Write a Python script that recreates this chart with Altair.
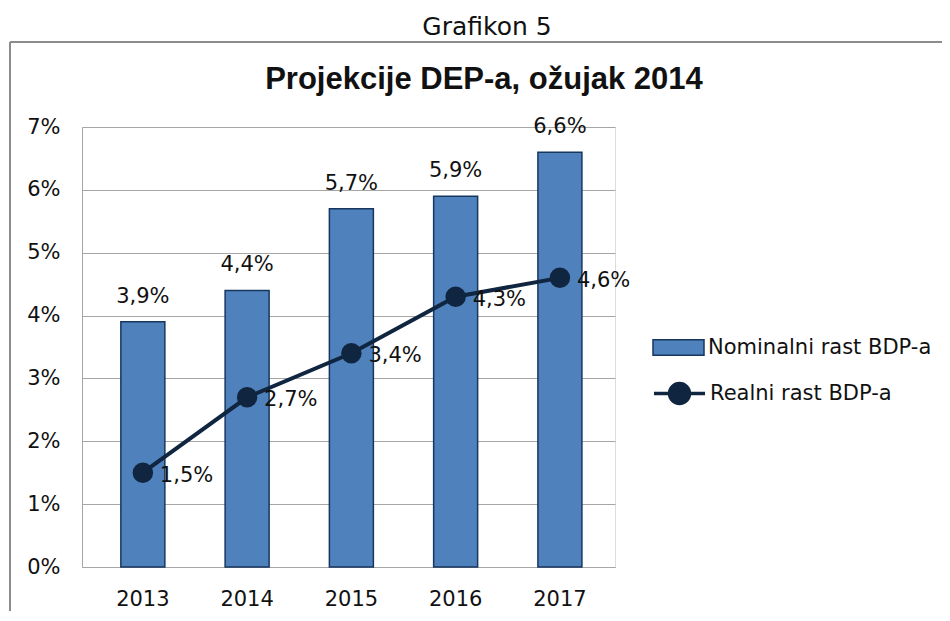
import altair as alt
import pandas as pd

years = ["2013", "2014", "2015", "2016", "2017"]
nominal = [3.9, 4.4, 5.7, 5.9, 6.6]
real = [1.5, 2.7, 3.4, 4.3, 4.6]
nominal_name = "Nominalni rast BDP-a"
real_name = "Realni rast BDP-a"
y_ticks = [0, 1, 2, 3, 4, 5, 6, 7]
chart_title = "Projekcije DEP-a, ožujak 2014"
caption = "Grafikon 5"

BAR = "#4F81BD"
BAR_EDGE = "#17375E"
LINE = "#10253F"
GRID = "#A6A6A6"
FONT = "DejaVu Sans"
FS = 21

W, H = 533, 440
PL, PT = 74, 119

df = pd.DataFrame({"year": years, "nominal": nominal, "real": real,
                   "s1": [nominal_name] * 5, "s2": [real_name] * 5})
df["nlab"] = [f"{v:.1f}".replace(".", ",") + "%" for v in nominal]
df["rlab"] = [f"{v:.1f}".replace(".", ",") + "%" for v in real]

xscale = alt.Scale(paddingInner=0.578, paddingOuter=0.345, align=0.54)
yscale = alt.Scale(domain=[0, 7], nice=False)

x = alt.X("year:N", scale=xscale, sort=years,
          axis=alt.Axis(title=None, labelAngle=0, ticks=False, labelFont=FONT,
                        labelFontSize=FS, labelColor="#111", labelPadding=21,
                        domainColor=GRID, domainWidth=1, grid=False))

base = alt.Chart(df)

bars = base.mark_bar(stroke=BAR_EDGE, strokeWidth=1.5).encode(
    x=x,
    y=alt.Y("nominal:Q", scale=yscale,
            axis=alt.Axis(title=None, values=y_ticks, labelExpr="datum.value + '%'",
                          labelFont=FONT, labelFontSize=FS, labelColor="#111",
                          labelPadding=22, ticks=False, gridColor=GRID, gridWidth=1,
                          domainColor=GRID, domainWidth=1)),
    fill=alt.Fill("s1:N", scale=alt.Scale(domain=[nominal_name], range=[BAR]),
                  legend=alt.Legend(title=None, orient="none", legendX=570, legendY=194,
                                    symbolType="M-1,-0.3H1V0.3H-1Z", symbolSize=2601,
                                    symbolStrokeColor=BAR_EDGE, symbolStrokeWidth=1.5,
                                    labelFont=FONT, labelFontSize=FS, labelColor="#111",
                                    labelOffset=3, labelLimit=400)),
)

bar_labels = base.mark_text(font=FONT, fontSize=FS, color="#111", dy=-25).encode(
    x=alt.X("year:N", scale=xscale, sort=years),
    y=alt.Y("nominal:Q", scale=yscale),
    text="nlab:N",
)

line = base.mark_line(strokeWidth=4).encode(
    x=alt.X("year:N", scale=xscale, sort=years),
    y=alt.Y("real:Q", scale=yscale),
    stroke=alt.Stroke("s2:N", scale=alt.Scale(domain=[real_name], range=[LINE]),
                      legend=alt.Legend(title=None, orient="none", legendX=570, legendY=239,
                                        symbolType="M-1,0H1M0.39,0A0.39,0.39 0 1 1 -0.39,0A0.39,0.39 0 1 1 0.39,0Z",
                                        symbolSize=2601, symbolFillColor=LINE,
                                        symbolStrokeWidth=3.5,
                                        labelFont=FONT, labelFontSize=FS, labelColor="#111",
                                        labelOffset=3, labelLimit=400)),
)

points = base.mark_circle(size=420, color=LINE, opacity=1).encode(
    x=alt.X("year:N", scale=xscale, sort=years),
    y=alt.Y("real:Q", scale=yscale),
)

line_labels = base.mark_text(font=FONT, fontSize=FS, color="#111", align="left",
                             dx=17, dy=3).encode(
    x=alt.X("year:N", scale=xscale, sort=years),
    y=alt.Y("real:Q", scale=yscale),
    text="rlab:N",
)

one = alt.Chart(pd.DataFrame({"t": [caption], "h": [chart_title]}))
cap = one.mark_text(font=FONT, fontSize=25, color="#111").encode(
    text="t:N", x=alt.value(405), y=alt.value(-100))
ttl = one.mark_text(font="Liberation Sans", fontSize=31, fontWeight="bold",
                    color="#111").encode(
    text="h:N", x=alt.value(402), y=alt.value(-47))
frame_top = one.mark_rule(color="#8C8C8C", strokeWidth=2).encode(
    x=alt.value(-72), x2=alt.value(880), y=alt.value(-85))
frame_left = one.mark_rule(color="#8C8C8C", strokeWidth=2).encode(
    x=alt.value(-72), y=alt.value(-85), y2=alt.value(500))

chart = alt.layer(
    frame_top, frame_left, cap, ttl, bars, bar_labels, line, points, line_labels
).resolve_scale(fill="independent", stroke="independent").properties(
    width=W, height=H,
    autosize=alt.AutoSizeParams(type="none"),
    padding={"left": PL, "top": PT, "right": 934 - PL - W, "bottom": 603 - PT - H},
).configure_view(stroke=None).configure(background="white")

chart.save("out.html", embed_options={"renderer": "svg", "actions": False})
